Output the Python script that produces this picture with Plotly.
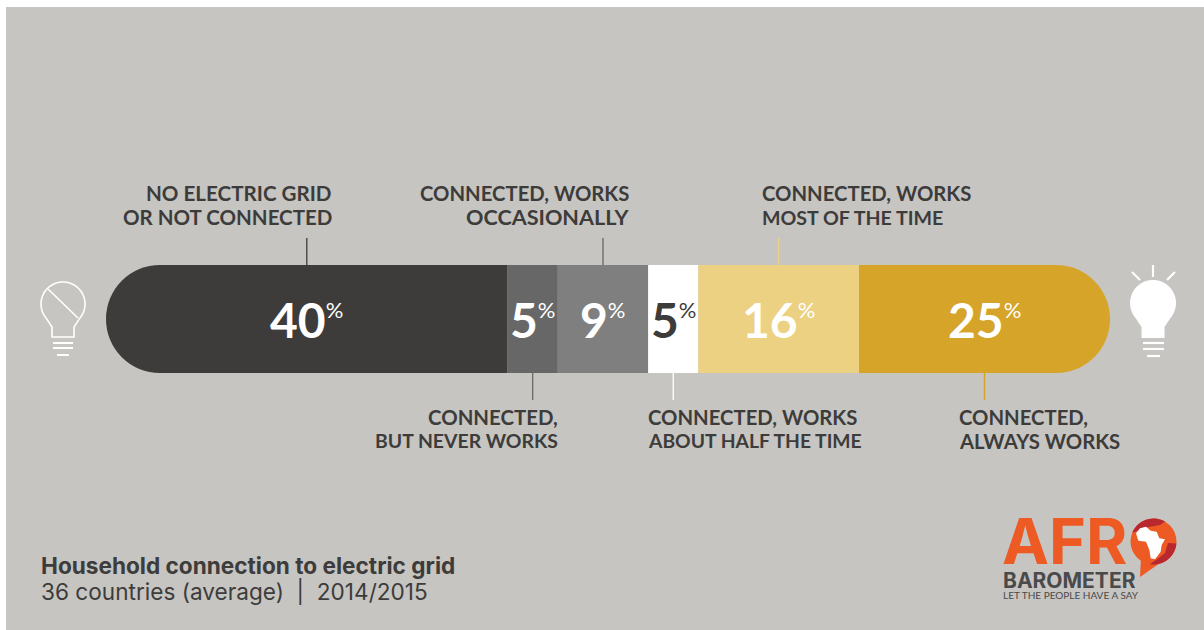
import math
import plotly.graph_objects as go

categories = ["No electric grid or not connected", "Connected, but never works",
              "Connected, works occasionally", "Connected, works about half the time",
              "Connected, works most of the time", "Connected, always works"]
values = [40, 5, 9, 5, 16, 25]
colors = ["#3d3c3a", "#676767", "#7f7f7f", "#ffffff", "#ecd182", "#d6a429"]
value_colors = ["#ffffff", "#ffffff", "#ffffff", "#3d3c3a", "#ffffff", "#ffffff"]
leader_colors = ["#3d3c3a", "#676767", "#676767", "#ffffff", "#ecd182", "#d6a429"]
label_lines = [["NO ELECTRIC GRID", "OR NOT CONNECTED"], ["CONNECTED,", "BUT NEVER WORKS"],
               ["CONNECTED, WORKS", "OCCASIONALLY"], ["CONNECTED, WORKS", "ABOUT HALF THE TIME"],
               ["CONNECTED, WORKS", "MOST OF THE TIME"], ["CONNECTED,", "ALWAYS WORKS"]]
label_sizes = [[20.6, 20.5], [20.4, 19.4], [20.3, 21.6], [20.3, 19.3], [20.3, 19.6], [20.3, 20.3]]
title_text = "Household connection to electric grid"
subtitle_text = "36 countries (average)  |  2014/2015"

W, H = 1204, 630
L, T, R, B = 6, 7, 1204, 630
PXU = 10.04
BAR_H = 108
BAR_CY = 319
BAR_X0 = 106
FONT = "Lato, 'Open Sans', sans-serif"
WIDE = "Inter, 'Open Sans', sans-serif"
DARK = "#3d3c3a"
ORANGE = "#ee5a24"
CRIMSON = "#b8282e"

def fx(p): return (p - L) / (R - L)
def fy(p): return (B - p) / (B - T)
def yd(p): return (BAR_CY - p) / BAR_H

fig = go.Figure()
# first segment runs leftward from the axis origin so both outer ends of the stack round off
origin = values[0]
x_min = -origin - (BAR_X0 - L) / PXU
x_max = x_min + (R - L) / PXU

starts, s = [], -origin
for v in values:
    starts.append(s)
    s += v
mids = [a + v / 2 for a, v in zip(starts, values)]

for i, (c, v, col) in enumerate(zip(categories, values, colors)):
    marker = dict(color=col, line=dict(width=0))
    if i in (0, len(values) - 1):
        marker["cornerradius"] = BAR_H // 2
    fig.add_trace(go.Bar(y=[0], x=[-v if i == 0 else v], orientation="h", name=c,
                         width=1, marker=marker, hoverinfo="name"))

# leaders
above = [True, False, True, False, True, False]
for m, up, col in zip(mids, above, leader_colors):
    ys = [yd(238), yd(265)] if up else [yd(373), yd(400)]
    fig.add_trace(go.Scatter(x=[m, m], y=ys, mode="lines", line=dict(color=col, width=1.3),
                             hoverinfo="skip"))

ann = []
def text_at(px, py, txt, size, color, anchor="left", family=FONT):
    ann.append(dict(x=fx(px), y=fy(py), xref="paper", yref="paper", xanchor=anchor, yanchor="middle",
                    showarrow=False, text=txt, font=dict(family=family, size=size, color=color)))

for m, v, col in zip(mids, values, value_colors):
    ann.append(dict(x=m, y=0, xref="x", yref="y", xanchor="center", yanchor="middle", showarrow=False,
                    text=f"<b>{v}</b><sup><span style='font-size:22px'>%</span></sup>",
                    font=dict(family=FONT, size=48, color=col)))

label_pos = [(334, "right", 193), (560, "right", 417), (631, "right", 193),
             (646, "left", 417), (760, "left", 193), (957, "left", 417)]
for lines, sizes, (px, anc, cy) in zip(label_lines, label_sizes, label_pos):
    for k, (line, sz) in enumerate(zip(lines, sizes)):
        text_at(px, cy + 24 * k, f"<b>{line}</b>", sz, DARK, anc)

text_at(39, 565, f"<b>{title_text}</b>", 22.6, DARK, family=WIDE)
text_at(39, 592, subtitle_text, 22.6, DARK, family=WIDE)

# logo text
text_at(1000, 541, "<b>AFR</b>", 63, ORANGE, family=WIDE)
text_at(1001, 580, "<b>BAROMETER</b>", 21, "#4a4a4a", family=WIDE)
text_at(1001, 595, "LET THE PEOPLE HAVE A SAY", 10, "#4a4a4a")

shapes = []
def path_shape(pts, close=False, **kw):
    d = "M" + " L".join(f"{fx(a):.5f},{fy(b):.5f}" for a, b in pts) + (" Z" if close else "")
    shapes.append(dict(type="path", xref="paper", yref="paper", path=d, **kw))
def circle(cx, cy, r, **kw):
    shapes.append(dict(type="circle", xref="paper", yref="paper", x0=fx(cx - r), x1=fx(cx + r),
                       y0=fy(cy + r), y1=fy(cy - r), **kw))
def seg(a, b, c, d, w=2, col="#ffffff"):
    path_shape([(a, b), (c, d)], line=dict(color=col, width=w))
def arc(cx, cy, r, a0, a1, n=24):
    return [(cx + r * math.cos(math.radians(a0 + (a1 - a0) * i / n)),
             cy + r * math.sin(math.radians(a0 + (a1 - a0) * i / n))) for i in range(n + 1)]
def bulb(cx, cy, r, half, neck_top, bottom):
    # arc runs over the top from lower left to lower right (screen y grows downward)
    pts = [(cx - half, bottom), (cx - half, neck_top)]
    pts += arc(cx, cy, r, 140, 400, 60)
    pts += [(cx + half, neck_top), (cx + half, bottom)]
    return pts

# left bulb (off)
WL = dict(color="#ffffff", width=1.6)
path_shape(bulb(63, 304, 22, 11, 327, 337), close=True, line=WL)
seg(48, 289, 78, 318, 1.6)
seg(53, 343, 73, 343); seg(53, 348, 73, 348); seg(57, 355, 69, 355)

# right bulb (on)
path_shape(bulb(1153, 303, 23, 11.5, 327, 338), close=True, fillcolor="#ffffff", line=dict(width=0))
seg(1143, 343, 1164, 343, 2.2); seg(1143, 349, 1164, 349, 2.2); seg(1147, 356, 1160, 356, 2.2)
seg(1153, 265, 1153, 277, 2.2); seg(1132, 272, 1140, 280, 2.2); seg(1175, 272, 1167, 280, 2.2)

# logo bubble
BX, BY, BR = 1153.5, 541.5, 23
circle(BX, BY, BR, fillcolor=ORANGE, line=dict(width=0))
path_shape([(1141, 558), (1140, 577), (1160, 563)], close=True, fillcolor=ORANGE, line=dict(width=0))
path_shape(arc(BX, BY, BR, 203, 300) + [(1160, 525), (1143, 528), (1135, 532)], close=True,
           fillcolor=CRIMSON, line=dict(width=0))
path_shape(arc(BX, BY, BR, 5, 100) + [(1156, 560), (1165, 553), (1168, 543)], close=True,
           fillcolor=CRIMSON, line=dict(width=0))
africa_zoom = [(48, 70), (60, 55), (78, 50), (92, 62), (110, 65), (118, 85), (135, 88), (125, 105),
               (122, 125), (105, 148), (92, 145), (88, 120), (78, 95), (55, 92)]
path_shape([(1120 + a / 3, 510 + b / 3) for a, b in africa_zoom], close=True,
           fillcolor="#ffffff", line=dict(width=0))

fig.update_layout(
    width=W, height=H, barmode="relative", showlegend=False,
    paper_bgcolor="#ffffff", plot_bgcolor="#c6c5c2",
    margin=dict(l=L, r=W - R, t=T, b=H - B, pad=0, autoexpand=False),
    xaxis=dict(range=[x_min, x_max], visible=False, fixedrange=True),
    yaxis=dict(range=[yd(B), yd(T)], visible=False, fixedrange=True),
    annotations=ann, shapes=shapes,
)
fig.write_html("out.html", config={"displayModeBar": False},
               post_script="document.body.style.margin='0';document.body.style.overflow='hidden';")
